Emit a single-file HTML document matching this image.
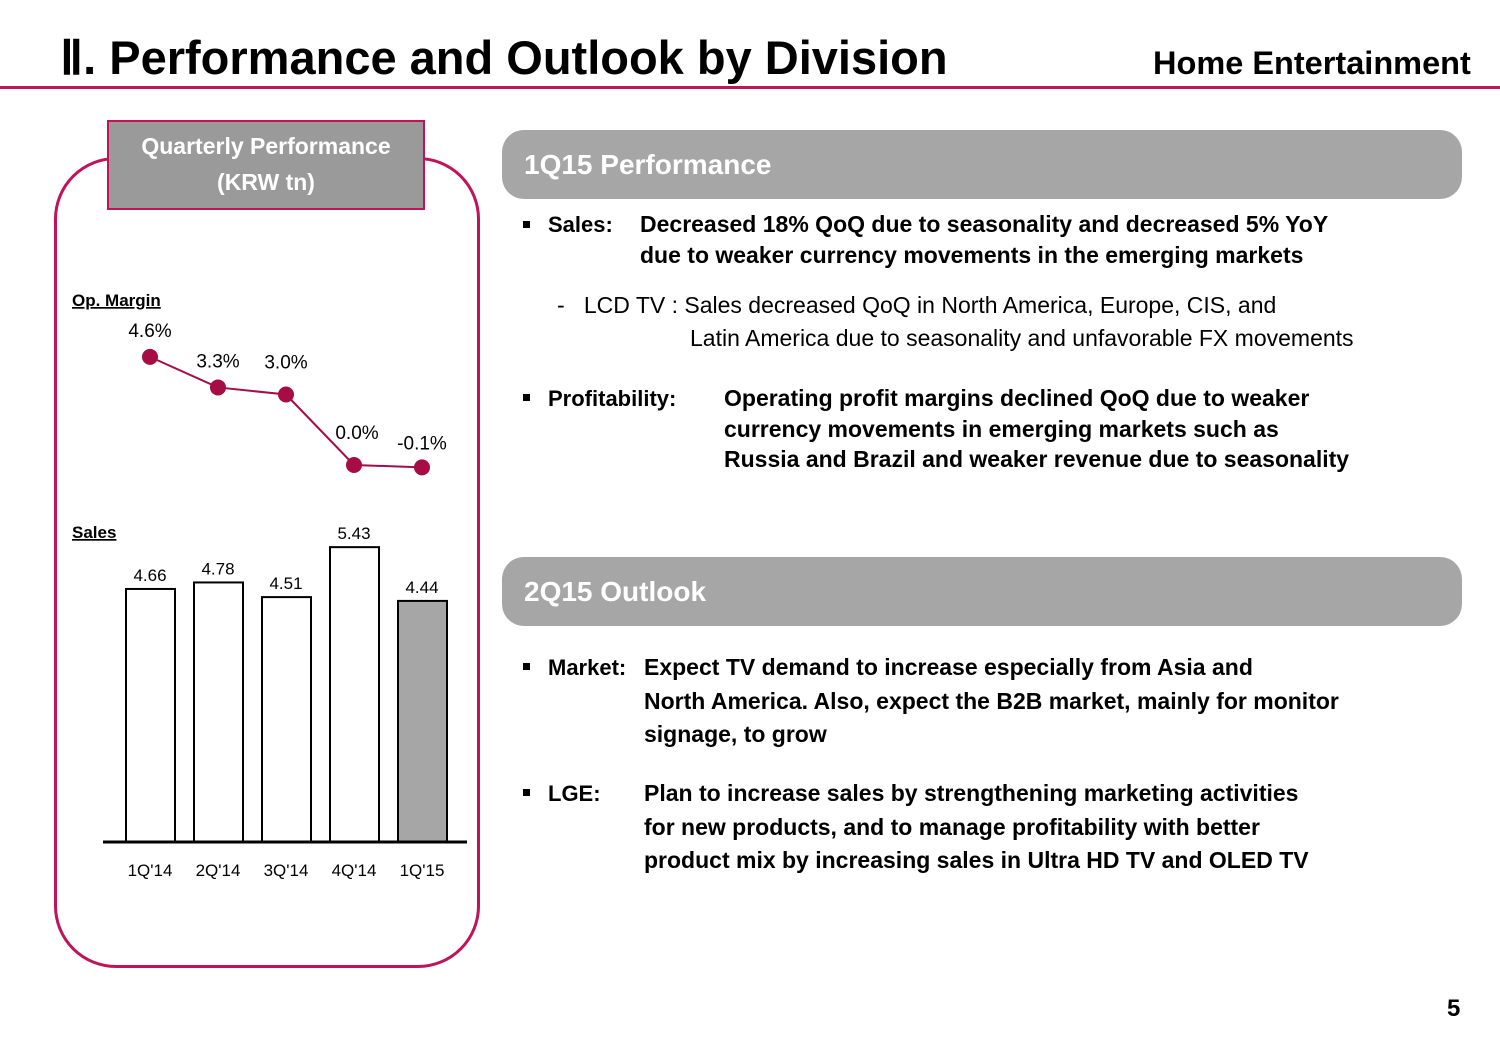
<!DOCTYPE html>
<html><head><meta charset="utf-8"><style>
body{margin:0;width:1500px;height:1038px;background:#fff;font-family:"Liberation Sans",Arial,sans-serif;position:relative;overflow:hidden;color:#000}
.a{position:absolute;white-space:nowrap}
.b{font-weight:bold}
.pill{position:absolute;left:502px;width:960px;height:69px;background:#a6a6a6;border-radius:22px;color:#fff;font-weight:bold;font-size:28px;line-height:69px;padding-left:22px;box-sizing:border-box}
.t{font-size:22px;font-weight:bold}
.tb{font-size:23px;font-weight:bold}
.n{font-size:23px}
.sq{position:absolute;width:7px;height:7px;background:#000}
</style></head><body>
<div class="a b" style="left:60px;top:30px;font-size:47px">Ⅱ. Performance and Outlook by Division</div>
<div class="a b" style="left:1153px;top:45px;font-size:32.5px">Home Entertainment</div>
<div class="a" style="left:0;top:86px;width:1500px;height:3px;background:#c0135a"></div>

<div class="a" style="left:54px;top:157px;width:420px;height:805px;border:3px solid #c0135a;border-radius:62px"></div>
<div class="a" style="left:107px;top:120px;width:314px;background:#9a9a9a;border:2px solid #c0135a;color:#fff;font-weight:bold;font-size:23px;text-align:center;line-height:36px;padding-top:6px;height:80px">Quarterly Performance<br>(KRW tn)</div>

<svg class="a" style="left:0;top:0" width="500" height="1000">
<text x="72" y="306" font-size="17" font-weight="bold" text-decoration="underline">Op. Margin</text>
<text x="72" y="538" font-size="17" font-weight="bold" text-decoration="underline">Sales</text>
<g id="g"></g>
</svg>

<div class="pill" style="top:130px">1Q15 Performance</div>
<div class="sq" style="left:523px;top:221px"></div>
<div class="a t" style="left:548px;top:212px">Sales:</div>
<div class="a tb" style="left:640px;top:209px;line-height:31px">Decreased 18% QoQ due to seasonality and decreased 5% YoY<br>due to weaker currency movements in the emerging markets</div>
<div class="a n" style="left:557px;top:292px">-&nbsp;&nbsp; LCD TV : Sales decreased QoQ in North America, Europe, CIS, and</div>
<div class="a n" style="left:690px;top:325px">Latin America due to seasonality and unfavorable FX movements</div>
<div class="sq" style="left:523px;top:394px"></div>
<div class="a t" style="left:548px;top:386px">Profitability:</div>
<div class="a tb" style="left:724px;top:383px;line-height:30.5px">Operating profit margins declined QoQ due to weaker<br>currency movements in emerging markets such as<br>Russia and Brazil and weaker revenue due to seasonality</div>

<div class="pill" style="top:557px">2Q15 Outlook</div>
<div class="sq" style="left:523px;top:663px"></div>
<div class="a t" style="left:548px;top:655px">Market:</div>
<div class="a tb" style="left:644px;top:651px;line-height:33.5px">Expect TV demand to increase especially from Asia and<br>North America. Also, expect the B2B market, mainly for monitor<br>signage, to grow</div>
<div class="sq" style="left:523px;top:789px"></div>
<div class="a t" style="left:548px;top:781px">LGE:</div>
<div class="a tb" style="left:644px;top:777px;line-height:33.5px">Plan to increase sales by strengthening marketing activities<br>for new products, and to manage profitability with better<br>product mix by increasing sales in Ultra HD TV and OLED TV</div>
<div class="a b" style="left:1447px;top:995px;font-size:24px">5</div>

<script>
const quarters=["1Q'14","2Q'14","3Q'14","4Q'14","1Q'15"];
const sales=[4.66,4.78,4.51,5.43,4.44];
const salesLabels=["4.66","4.78","4.51","5.43","4.44"];
const margin=[4.6,3.3,3.0,0.0,-0.1];
const marginLabels=["4.6%","3.3%","3.0%","0.0%","-0.1%"];
const NS="http://www.w3.org/2000/svg",g=document.getElementById('g');
const xp=i=>150+i*68;
const ys=v=>842-v*54.3;
const ym=v=>465-v*23.5;
function mk(t,a){const e=document.createElementNS(NS,t);for(const k in a)e.setAttribute(k,a[k]);g.appendChild(e);return e;}
sales.forEach((v,i)=>{
 const r=mk('rect',{x:xp(i)-24,y:ys(v),width:49,height:842-ys(v),fill:i==4?'#a6a6a6':'#fff',stroke:'#000','stroke-width':2});
 
 
 const t=mk('text',{x:xp(i),y:ys(v)-8,'font-size':17,'text-anchor':'middle'});t.textContent=salesLabels[i];
 
 
 const q=mk('text',{x:xp(i),y:876,'font-size':17,'text-anchor':'middle'});q.textContent=quarters[i];
 
 
});
const ax=mk('line',{x1:103,x2:467,y1:842,y2:842,stroke:'#000','stroke-width':3});


const pl=mk('polyline',{points:margin.map((v,i)=>xp(i)+','+ym(v)).join(' '),fill:'none',stroke:'#a50d44','stroke-width':2});


const off=[[0,-20],[0,-20],[0,-20],[3,-26],[0,-18]];
margin.forEach((v,i)=>{
 const c=mk('circle',{cx:xp(i),cy:ym(v),r:8,fill:'#a50d44'});
 
 
 const t=mk('text',{x:xp(i)+off[i][0],y:ym(v)+off[i][1]+(i==2?-6:0),'font-size':19,'text-anchor':'middle'});t.textContent=marginLabels[i];
 
 
});
</script>
</body></html>
